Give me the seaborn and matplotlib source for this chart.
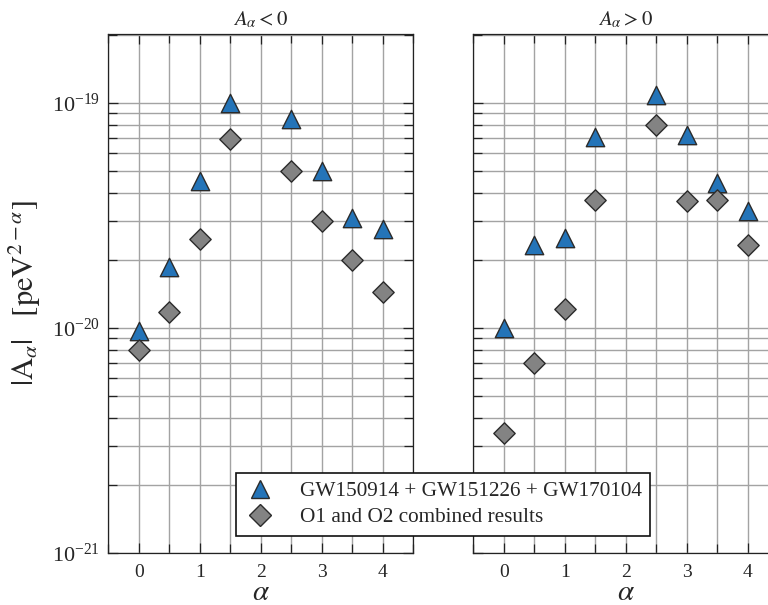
import numpy as np
import pandas as pd
import matplotlib
matplotlib.use("Agg")
import matplotlib.pyplot as plt
from matplotlib.ticker import FixedLocator, MultipleLocator, NullFormatter
from matplotlib.lines import Line2D
import seaborn as sns

# Exponent values of the modified dispersion relation
alpha = [0.0, 0.5, 1.0, 1.5, 2.5, 3.0, 3.5, 4.0]

# |A_alpha| upper bounds (peV^{2-alpha}), A_alpha < 0
neg_gw3 = [9.7e-21, 1.86e-20, 4.5e-20, 1.0e-19, 8.5e-20, 5.0e-20, 3.1e-20, 2.75e-20]
neg_o1o2 = [8.0e-21, 1.18e-20, 2.5e-20, 6.9e-20, 5.0e-20, 2.98e-20, 2.0e-20, 1.44e-20]

# |A_alpha| upper bounds (peV^{2-alpha}), A_alpha > 0
pos_gw3 = [1.0e-20, 2.33e-20, 2.52e-20, 7.1e-20, 1.09e-19, 7.2e-20, 4.4e-20, 3.3e-20]
pos_o1o2 = [3.4e-21, 7.0e-21, 1.21e-20, 3.7e-20, 8.0e-20, 3.66e-20, 3.72e-20, 2.35e-20]

panel_titles = [r"$A_\alpha < 0$", r"$A_\alpha > 0$"]
series_labels = ["GW150914 + GW151226 + GW170104", "O1 and O2 combined results"]
decades = [1e-21, 1e-20, 1e-19]

blue = "#2474b8"
grey = "#838383"
edge = "#2b2b2b"
grid_c = "#a3a3a3"
dark = "#222222"

sns.set_theme(style="ticks")
plt.rcParams["font.family"] = ["Liberation Serif", "DejaVu Serif"]
plt.rcParams["mathtext.fontset"] = "stix"
plt.rcParams["axes.edgecolor"] = dark
plt.rcParams["axes.linewidth"] = 0.9

fig = plt.figure(figsize=(7.68, 6.05), dpi=100)
ax_w = 305 / 768
ax_h = (553 - 34) / 605
ax_b = (605 - 553) / 605
axes = [
    fig.add_axes([108.3 / 768, ax_b, ax_w, ax_h]),
    fig.add_axes([473.3 / 768, ax_b, ax_w, ax_h]),
]

panels = [(neg_gw3, neg_o1o2), (pos_gw3, pos_o1o2)]
minor_y = [m * d for d in decades for m in range(2, 10) if m * d < 2.03e-19]

for i, (ax, (gw3, o1o2)) in enumerate(zip(axes, panels)):
    df = pd.DataFrame({"alpha": alpha, "gw3": gw3, "o1o2": o1o2})
    sns.scatterplot(data=df, x="alpha", y="gw3", marker="^", s=175,
                    color=blue, edgecolor=edge, linewidth=1.0, ax=ax, zorder=3)
    sns.scatterplot(data=df, x="alpha", y="o1o2", marker="D", s=118,
                    color=grey, edgecolor=edge, linewidth=1.0, ax=ax, zorder=3)
    ax.set_yscale("log")
    ax.set_ylim(1e-21, 2.03e-19)
    ax.set_xlim(-0.5, 4.5)
    ax.xaxis.set_major_locator(MultipleLocator(1))
    ax.xaxis.set_minor_locator(MultipleLocator(0.5))
    ax.yaxis.set_major_locator(FixedLocator(decades))
    ax.yaxis.set_minor_locator(FixedLocator(minor_y))
    ax.yaxis.set_minor_formatter(NullFormatter())
    ax.grid(True, which="both", color=grid_c, linewidth=1.0)
    ax.set_axisbelow(True)
    ax.tick_params(which="both", direction="in", top=True, right=True,
                   color=dark, width=0.9)
    ax.tick_params(which="major", length=7.5)
    ax.tick_params(which="minor", length=6.5)
    ax.tick_params(axis="x", which="major", pad=8, labelsize=14)
    ax.tick_params(axis="y", which="major", pad=6, labelsize=16)
    ax.set_title(panel_titles[i], fontsize=15, pad=6)
    ax.set_xlabel(r"$\alpha$", fontsize=21, labelpad=-1)
    for s in ax.spines.values():
        s.set_visible(True)
    if i == 0:
        ax.set_ylabel(r"$|\mathrm{A}_\alpha| \quad [\mathrm{peV}^{2-\alpha}]$", fontsize=22)
        ax.yaxis.set_label_coords(-0.215, 0.5)
    else:
        ax.set_ylabel("")
        ax.tick_params(axis="y", which="both", labelleft=False)

handles = [
    Line2D([], [], linestyle="none", marker="^", markersize=13.2,
           markerfacecolor=blue, markeredgecolor=edge, markeredgewidth=1.0),
    Line2D([], [], linestyle="none", marker="D", markersize=10.8,
           markerfacecolor=grey, markeredgecolor=edge, markeredgewidth=1.0),
]
leg = fig.legend(handles, series_labels, loc="lower left",
                 bbox_to_anchor=(236 / 768, (605 - 536) / 605),
                 fontsize=15.3, frameon=True, fancybox=False, framealpha=1,
                 edgecolor="#111111", borderpad=0.4, labelspacing=0.3,
                 handletextpad=1.1, handlelength=1.5, borderaxespad=0)
leg.get_frame().set_linewidth(1.2)

fig.savefig("out.png", dpi=100)
